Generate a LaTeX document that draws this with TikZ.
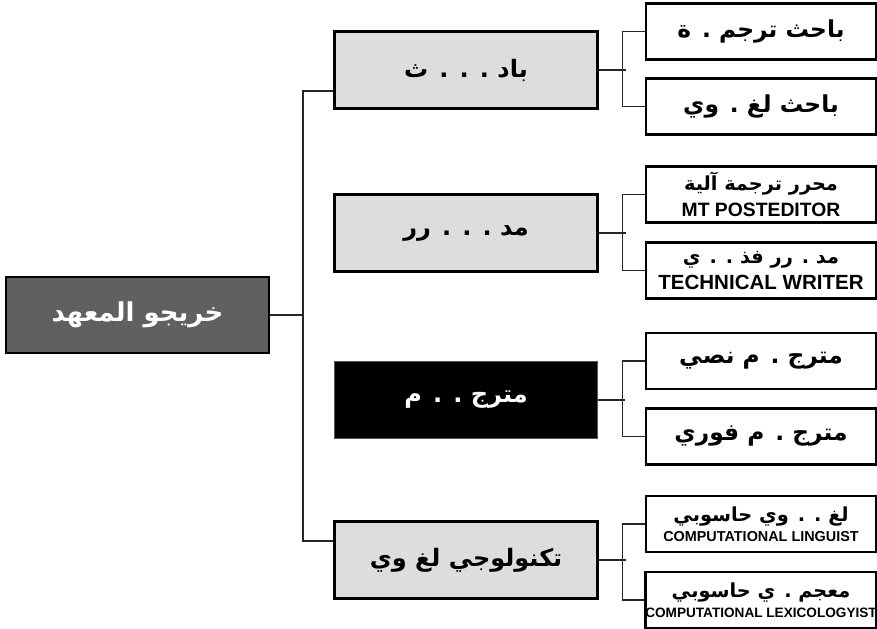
\documentclass[tikz,border=0pt]{standalone}
\usepackage{fontspec}
\setmainfont{Liberation Sans}
\newfontfamily\arabicfont[Script=Arabic]{DejaVu Sans}
\TeXXeTstate=1
\newcommand\artxt[1]{{\arabicfont\bfseries\beginR #1\endR}}
\newcommand\latxt[1]{{\bfseries #1}}
\definecolor{rootgray}{HTML}{606060}
\definecolor{midgray}{HTML}{DDDDDD}
\definecolor{edgegray}{HTML}{555555}
\begin{document}
\begin{tikzpicture}[x=0.75pt,y=-0.75pt,
  rootbox/.style={draw=black, line width=2pt, fill=rootgray, text=white,
    minimum width=197.25pt, minimum height=57pt, inner sep=0pt,
    font=\fontsize{19.5pt}{24pt}\selectfont},
  midbox/.style={draw=black, line width=2pt, fill=midgray,
    minimum width=197.25pt, minimum height=57.5pt, inner sep=0pt,
    font=\fontsize{18pt}{22pt}\selectfont},
  darkbox/.style={midbox, draw=edgegray, line width=1pt, fill=black, text=white},
  childbox/.style={draw=black, line width=2pt, fill=white,
    minimum width=172.5pt, minimum height=42pt, inner sep=0pt, align=center,
    font=\fontsize{17.5pt}{21pt}\selectfont},
  twobox/.style={childbox, font=\fontsize{14.5pt}{16pt}\selectfont},
  link/.style={draw=black!85, line width=0.8pt}
]
\useasboundingbox (0,0) rectangle (877,628);

% root
\node[rootbox] (root) at (137.5,315) {\artxt{خريجو المعهد}};

% middle column
\node[midbox] (m1) at (466,70) {\artxt{باد . . . ث}};
\node[midbox] (m2) at (466,233) {\artxt{مد . . . رر}};
\node[darkbox] (m3) at (466,400) {\artxt{مترج . . م}};
\node[midbox] (m4) at (466,560) {\artxt{تكنولوجي لغ وي}};

% right column
\node[childbox] (ca) at (761,31.5) {\artxt{باحث ترجم . ة}};
\node[childbox] (cb) at (761,106.5) {\artxt{باحث لغ . وي}};
\node[twobox] (cc) at (761,194.5) {\artxt{محرر ترجمة آلية}\\[3pt]
  {\fontsize{14.5pt}{16pt}\selectfont\latxt{MT POSTEDITOR}}};
\node[twobox] (cd) at (761,270.5) {\artxt{مد . رر فذ . . ي}\\[3pt]
  {\fontsize{15.4pt}{16pt}\selectfont\latxt{TECHNICAL WRITER}}};
\node[childbox] (ce) at (761,361) {\artxt{مترج . م نصي}};
\node[childbox] (cf) at (761,436.5) {\artxt{مترج . م فوري}};
\node[twobox] (cg) at (761,524) {\artxt{لغ . . وي حاسوبي}\\[-1pt]
  {\fontsize{10.8pt}{12pt}\selectfont\latxt{COMPUTATIONAL LINGUIST}}};
\node[twobox] (ch) at (761,600) {\artxt{معجم . ي حاسوبي}\\[-1pt]
  {\fontsize{10.2pt}{12pt}\selectfont\latxt{COMPUTATIONAL LEXICOLOGYIST}}};

% trunk
\coordinate (t1) at (303,91);
\coordinate (t4) at (303,541);
\draw[link] (m1.west |- t1) -- (t1) -- (t4) -- (m4.west |- t4);
\draw[link] (root.east) -- (root.east -| t1);

% branches
\foreach \m/\a/\b in {m1/ca/cb, m2/cc/cd, m3/ce/cf, m4/cg/ch}{
  \draw[link] (\a.west) -- ++(-22,0) |- (\b.west);
  \draw[link] (\m.east) -- ++(27,0);
}
\end{tikzpicture}
\end{document}
